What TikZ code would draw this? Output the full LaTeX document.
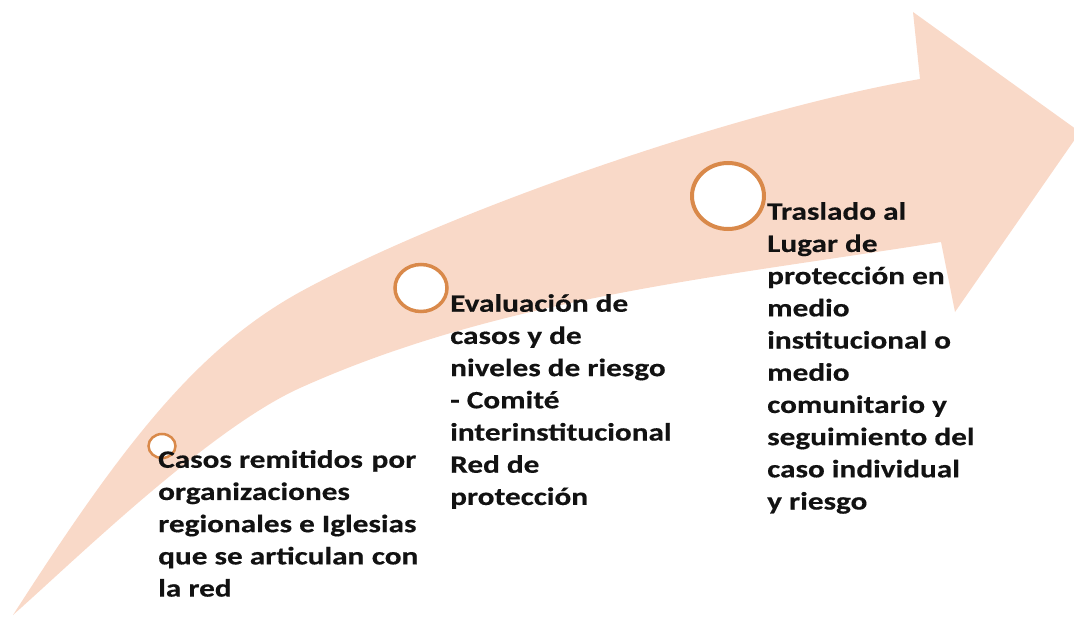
\documentclass[tikz,border=0pt]{standalone}
\usepackage{fontspec}
\setmainfont{Carlito}[FakeStretch=1.25, BoldFeatures={FakeBold=0.4}]
\usetikzlibrary{shapes.geometric}
\definecolor{peach}{HTML}{F9D9C8}
\definecolor{ring}{HTML}{D9894A}
\definecolor{txt}{HTML}{121212}
\begin{document}
\begin{tikzpicture}[x=1pt,y=-1pt,
  arrowfill/.style={fill=peach},
  stepring/.style={ellipse, draw=ring, fill=white, inner sep=0pt},
  steptext/.style={anchor=north west, inner sep=0pt, align=left, text=txt,
    font=\fontsize{25}{32.2}\selectfont\bfseries}]
\useasboundingbox (0,0) rectangle (1074,618);
\begin{scope}
\clip (0,0) rectangle (1074,618);
\fill[arrowfill] (13,615)
  .. controls (121,447) and (195,350) .. (300,292)
  .. controls (450,210) and (740,110) .. (920,79)
  -- (913,12) -- (1080,132) -- (955,312) -- (941,242)
  .. controls (721,277) and (500,298) .. (300,388)
  .. controls (209,429) and (73,562) .. (13,615)
  -- cycle;
\end{scope}
\node[stepring, minimum width=27pt, minimum height=24pt, line width=2.5pt] (c1) at (162,446) {};
\node[stepring, minimum width=52pt, minimum height=47pt, line width=3.5pt] (c2) at (421,288) {};
\node[stepring, minimum width=72pt, minimum height=66pt, line width=4pt] (c3) at (728,196) {};
\node[steptext] (t1) at (158,450) {Casos remitidos\hspace{0.35em}por\\organizaciones\\regionales e Iglesias\\que se articulan\hspace{0.3em}con\\la red};
\node[steptext] (t2) at (450,294) {Evaluación de\\casos y de\\niveles de riesgo\\- Comité\\interinstitucional\\Red de\\protección};
\node[steptext] (t3) at (767,202) {Traslado al\\Lugar de\\protección en\\medio\\institucional o\\medio\\comunitario y\\seguimiento del\\caso individual\\y riesgo};
\end{tikzpicture}
\end{document}
